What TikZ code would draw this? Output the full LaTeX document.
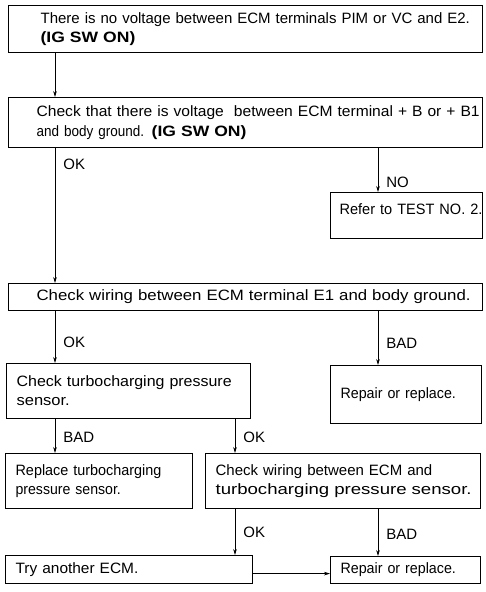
\documentclass[tikz,border=0pt]{standalone}
\usepackage{fontspec}
\setmainfont{Liberation Sans}
\usetikzlibrary{positioning, arrows.meta, calc}
% wider or narrower setting of a piece of text
\newcommand{\stretched}[2]{{\addfontfeature{FakeStretch=#1}#2}}
\newcommand{\igon}{\textbf{\stretched{1.17}{(IG SW ON)}}}
\tikzset{
    x=1pt, y=-1pt, % one unit is one point, y runs downwards
    box/.style n args={3}{ % box: width, height, left indent of the text
        draw,
        line width=1.2pt,
        anchor=north west,
        align=left,
        inner xsep=0pt, inner ysep=0pt,
        text width=#1, minimum height=#2,
        execute at begin node={\leftskip=#3\relax},
        font=\fontsize{15}{19}\selectfont
    },
    tag/.style={right=8pt, inner sep=0pt, font=\fontsize{15}{18}\selectfont}, % OK / NO / BAD
    every edge/.style={ % connectors between boxes
        draw,
        -{Stealth[length=6pt,width=3.6pt]},
        line width=0.8pt
    }
}
\begin{document}
\begin{tikzpicture}
    \useasboundingbox (0,0) rectangle (486,592);
    \node[box={474pt}{47pt}{32pt}]  (start)   at (8,5)     {There is no voltage between ECM terminals PIM or VC and E2.\\ \igon};
    \node[box={474pt}{50pt}{28pt}]  (battery) at (8,97)    {\stretched{1.04}{Check that there is voltage\ \ between ECM terminal + B or + B1}\\[1pt] \stretched{0.9}{and body ground.} \igon};
    \node[box={152pt}{46pt}{9pt}]   (test2)   at (330,192) {\raisebox{6pt}[\height][\depth]{\stretched{0.97}{Refer to TEST NO. 2.}}};
    \node[box={474pt}{27pt}{28pt}]  (ground)  at (8,283)   {\stretched{1.12}{Check wiring between ECM terminal E1 and body ground.}};
    \node[box={244pt}{55pt}{10pt}]  (sensor)  at (6,363)   {\stretched{1.065}{Check turbocharging pressure}\\ \stretched{1.1}{sensor.}};
    \node[box={151pt}{58pt}{10pt}]  (repairA) at (330,365) {\stretched{0.95}{Repair or replace.}};
    \node[box={187pt}{55pt}{10pt}]  (replace) at (5,453)   {\stretched{0.96}{Replace turbocharging}\\ \stretched{0.94}{pressure sensor.}};
    \node[box={275pt}{55pt}{10pt}]  (wiring)  at (205,453) {Check wiring between ECM and\\ \stretched{1.24}{turbocharging pressure sensor.}};
    \node[box={247pt}{28pt}{10pt}]  (ecm)     at (5,555)   {\stretched{1.03}{Try another ECM.}};
    \node[box={150pt}{27pt}{10pt}]  (repairB) at (330,556) {\stretched{0.95}{Repair or replace.}};
    % columns of the connectors
    \coordinate (lcol) at (55,0);
    \coordinate (mcol) at (235,0);
    \coordinate (rcol) at (378,0);
    \coordinate (link) at ([yshift=-4pt]ecm.east);
    \draw   (start.south -| lcol)   edge                          (battery.north -| lcol)
            (battery.south -| lcol) edge node[tag, pos=0.12] {OK}  (ground.north -| lcol)
            (battery.south -| rcol) edge node[tag, pos=0.78] {NO}  (test2.north -| rcol)
            (ground.south -| lcol)  edge node[tag, pos=0.6]  {OK}  (sensor.north -| lcol)
            (ground.south -| rcol)  edge node[tag, pos=0.6]  {BAD} (repairA.north -| rcol)
            (sensor.south -| lcol)  edge node[tag, pos=0.54] {BAD} (replace.north -| lcol)
            (sensor.south -| mcol)  edge node[tag, pos=0.54] {OK}  (wiring.north -| mcol)
            (wiring.south -| mcol)  edge node[tag, pos=0.51] {OK}  (ecm.north -| mcol)
            (wiring.south -| rcol)  edge node[tag, pos=0.53] {BAD} (repairB.north -| rcol)
            (link)                  edge                          (repairB.west |- link)
    ;
\end{tikzpicture}
\end{document}
